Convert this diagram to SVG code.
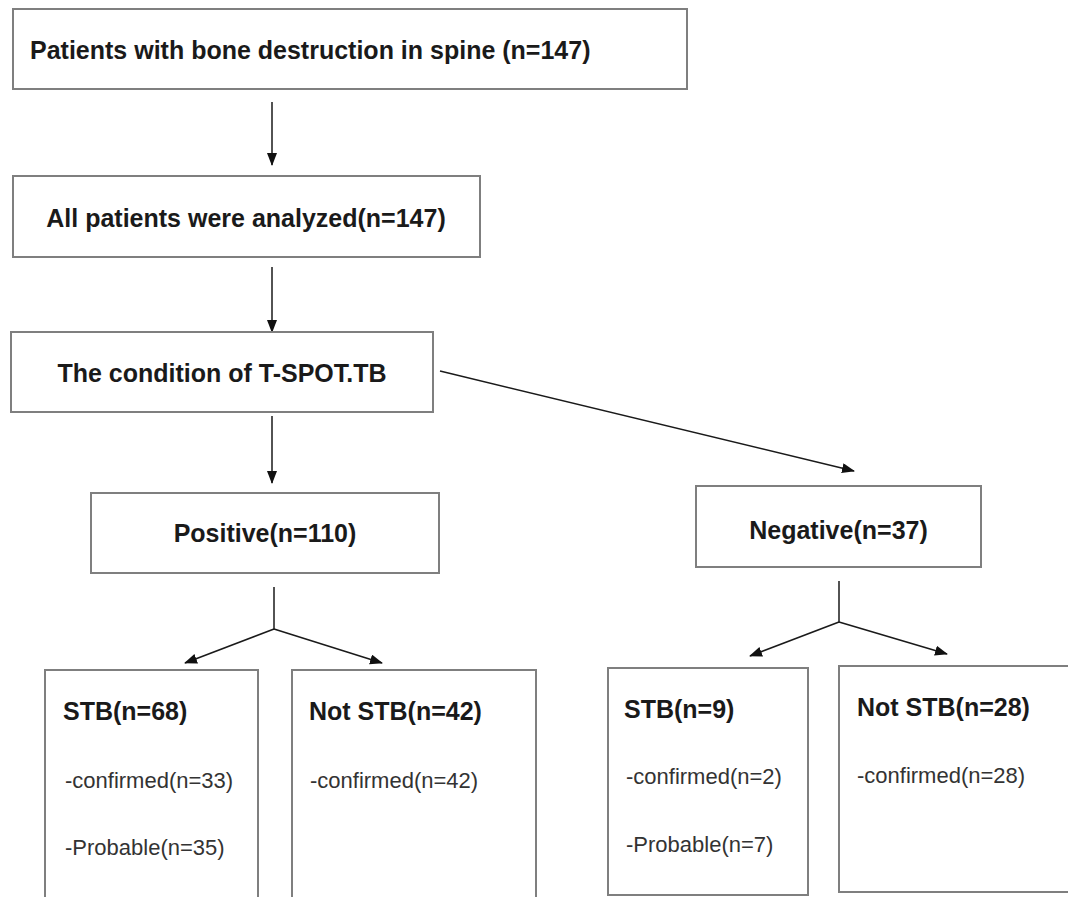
<svg xmlns="http://www.w3.org/2000/svg" width="1068" height="897" viewBox="0 0 1068 897">
<style>
.box{fill:#fff;stroke:#7f7f7f;stroke-width:2}
.hd{font-family:"Liberation Sans",Arial,sans-serif;font-weight:bold;font-size:25px;fill:#1a1a1a}
.tx{font-family:"Liberation Sans",Arial,sans-serif;font-size:22px;fill:#333}
.mid{text-anchor:middle}
.ln{stroke:#1a1a1a;stroke-width:1.5;fill:none}
</style>
<defs>
<marker id="ah" markerUnits="userSpaceOnUse" markerWidth="14" markerHeight="12" refX="12" refY="5" orient="auto">
<path d="M0,0 L13,5 L0,10 z" fill="#111"/>
</marker>
</defs>
<rect width="1068" height="897" fill="#fff"/>
<g id="connectors">
<line class="ln" x1="272" y1="102" x2="272" y2="165" marker-end="url(#ah)"/>
<line class="ln" x1="272" y1="267" x2="272" y2="332" marker-end="url(#ah)"/>
<line class="ln" x1="272" y1="416" x2="272" y2="483" marker-end="url(#ah)"/>
<line class="ln" x1="440" y1="371" x2="854" y2="471" marker-end="url(#ah)"/>
<line class="ln" x1="274" y1="587" x2="274" y2="629"/>
<line class="ln" x1="274" y1="629" x2="185" y2="663" marker-end="url(#ah)"/>
<line class="ln" x1="274" y1="629" x2="382" y2="663" marker-end="url(#ah)"/>
<line class="ln" x1="839" y1="581" x2="839" y2="622"/>
<line class="ln" x1="839" y1="622" x2="750" y2="656" marker-end="url(#ah)"/>
<line class="ln" x1="839" y1="622" x2="947" y2="654" marker-end="url(#ah)"/>
</g>
<g id="n1">
<rect class="box" x="13" y="9" width="674" height="80"/>
<text class="hd" x="30" y="59">Patients with bone destruction in spine (n=147)</text>
</g>
<g id="n2">
<rect class="box" x="13" y="176" width="467" height="81"/>
<text class="hd mid" x="246" y="227">All patients were analyzed(n=147)</text>
</g>
<g id="n3">
<rect class="box" x="11" y="332" width="422" height="80"/>
<text class="hd mid" x="222" y="382">The condition of T-SPOT.TB</text>
</g>
<g id="n4">
<rect class="box" x="91" y="493" width="348" height="80"/>
<text class="hd mid" x="265" y="542">Positive(n=110)</text>
</g>
<g id="n5">
<rect class="box" x="696" y="486" width="285" height="81"/>
<text class="hd mid" x="838.5" y="539">Negative(n=37)</text>
</g>
<g id="n6">
<rect class="box" x="45" y="670" width="213" height="240"/>
<text class="hd" x="63" y="720">STB(n=68)</text>
<text class="tx" x="65" y="788">-confirmed(n=33)</text>
<text class="tx" x="65" y="855">-Probable(n=35)</text>
</g>
<g id="n7">
<rect class="box" x="292" y="670" width="244" height="240"/>
<text class="hd" x="309" y="720">Not STB(n=42)</text>
<text class="tx" x="310" y="788">-confirmed(n=42)</text>
</g>
<g id="n8">
<rect class="box" x="608" y="668" width="200" height="227"/>
<text class="hd" x="624" y="718">STB(n=9)</text>
<text class="tx" x="626" y="784">-confirmed(n=2)</text>
<text class="tx" x="626" y="852">-Probable(n=7)</text>
</g>
<g id="n9">
<rect class="box" x="839" y="666" width="240" height="226"/>
<text class="hd" x="857" y="716">Not STB(n=28)</text>
<text class="tx" x="857" y="783">-confirmed(n=28)</text>
</g>
</svg>
